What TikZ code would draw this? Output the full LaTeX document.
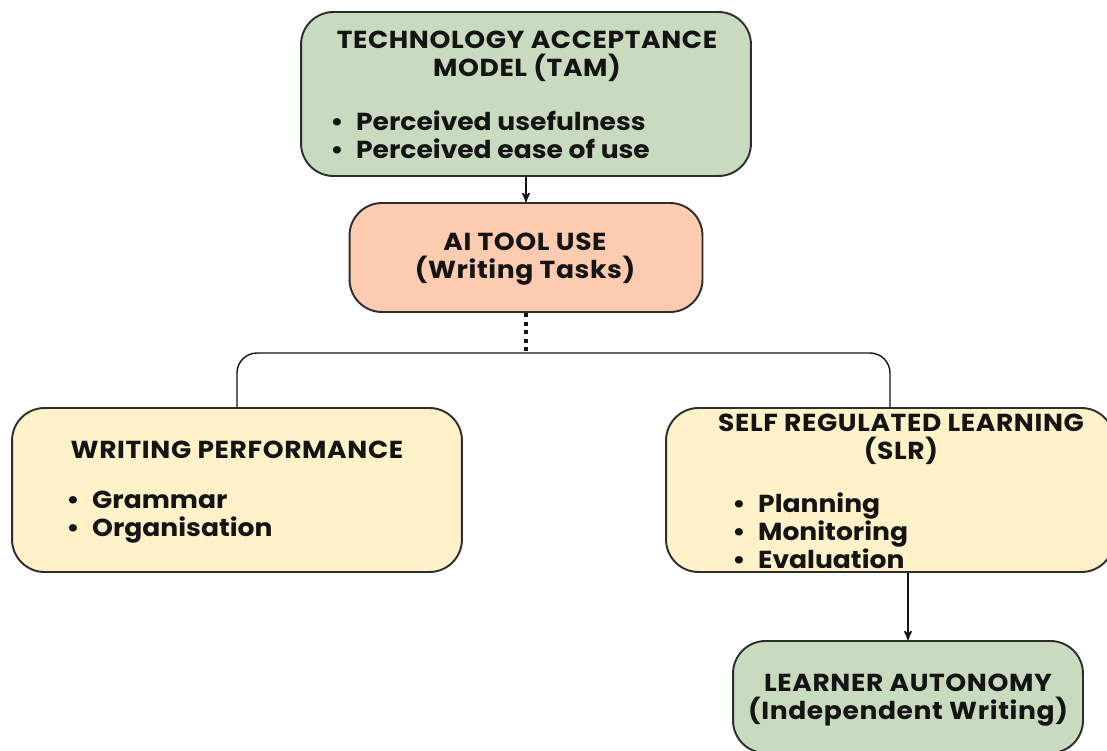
\documentclass[tikz,border=0pt]{standalone}
\usepackage{fontspec}
\setmainfont{Poppins}[FakeStretch=1.08]
\usepackage{tikz}
\usetikzlibrary{arrows,positioning}

\definecolor{tamgreen}{RGB}{201,219,191}
\definecolor{aipeach}{RGB}{253,203,176}
\definecolor{wpyellow}{RGB}{255,241,200}
\definecolor{edgegray}{RGB}{45,45,45}
\definecolor{inkblack}{RGB}{20,20,20}
\newcommand{\bulletmark}{\makebox[1.05em][l]{•}}

\begin{document}
\begin{tikzpicture}[x=0.02cm,y=-0.02cm,>=stealth',
    box/.style={draw=edgegray,line width=1.1pt,rounded corners=0.65cm},
    head/.style={align=center,inner sep=0pt,text=inkblack,font=\fontsize{14}{16}\selectfont\bfseries\addfontfeatures{LetterSpace=2.5}},
    items/.style={align=left,anchor=west,inner sep=0pt,text=inkblack,font=\fontsize{14}{16}\selectfont\bfseries},
    link/.style={draw=inkblack,line width=0.9pt}]
  \useasboundingbox (0,0) rectangle (1107,751);

  % boxes
  \node[box,fill=tamgreen,minimum width=9cm,minimum height=3.28cm] (tam) at (526,94) {};
  \node[box,fill=aipeach,minimum width=7.06cm,minimum height=2.18cm] (ai) at (526,257.5) {};
  \node[box,fill=wpyellow,minimum width=9cm,minimum height=3.28cm] (wp) at (237,490) {};
  \node[box,fill=wpyellow,minimum width=8.96cm,minimum height=3.28cm] (slr) at (890,490) {};
  \node[box,fill=tamgreen,minimum width=7cm,minimum height=2.24cm] (la) at (908,697) {};

  % texts
  \node[head] (tamhead) at (527,56) {TECHNOLOGY ACCEPTANCE\\MODEL (TAM)};
  \node[items] (tamitems) at (330,135) {\bulletmark Perceived usefulness\\\bulletmark Perceived ease of use};
  \node[head] (aihead) at (525,259) {AI TOOL USE\\(Writing Tasks)};
  \node[head] (wphead) at (237,450) {WRITING PERFORMANCE};
  \node[items] (wpitems) at (66,517) {\bulletmark Grammar\\\bulletmark Organisation};
  \node[head] (slrhead) at (901,439) {SELF REGULATED LEARNING\\(SLR)};
  \node[items] (slritems) at (732,531) {\bulletmark Planning\\\bulletmark Monitoring\\\bulletmark Evaluation};
  \node[head] (lahead) at (908,700) {LEARNER AUTONOMY\\(Independent Writing)};

  % connectors
  \coordinate (split) at (526,353);
  \path[link,->] (tam) edge (ai);
  \draw[inkblack,line width=2.3pt,dash pattern=on 2.3pt off 2.6pt] (ai.south) -- (split);
  \draw[link,line width=0.8pt,rounded corners=0.4cm] (wp.north) |- (split) -| (slr.north);
  \draw[link,->] (la.north |- slr.south) -- (la.north);
\end{tikzpicture}
\end{document}
